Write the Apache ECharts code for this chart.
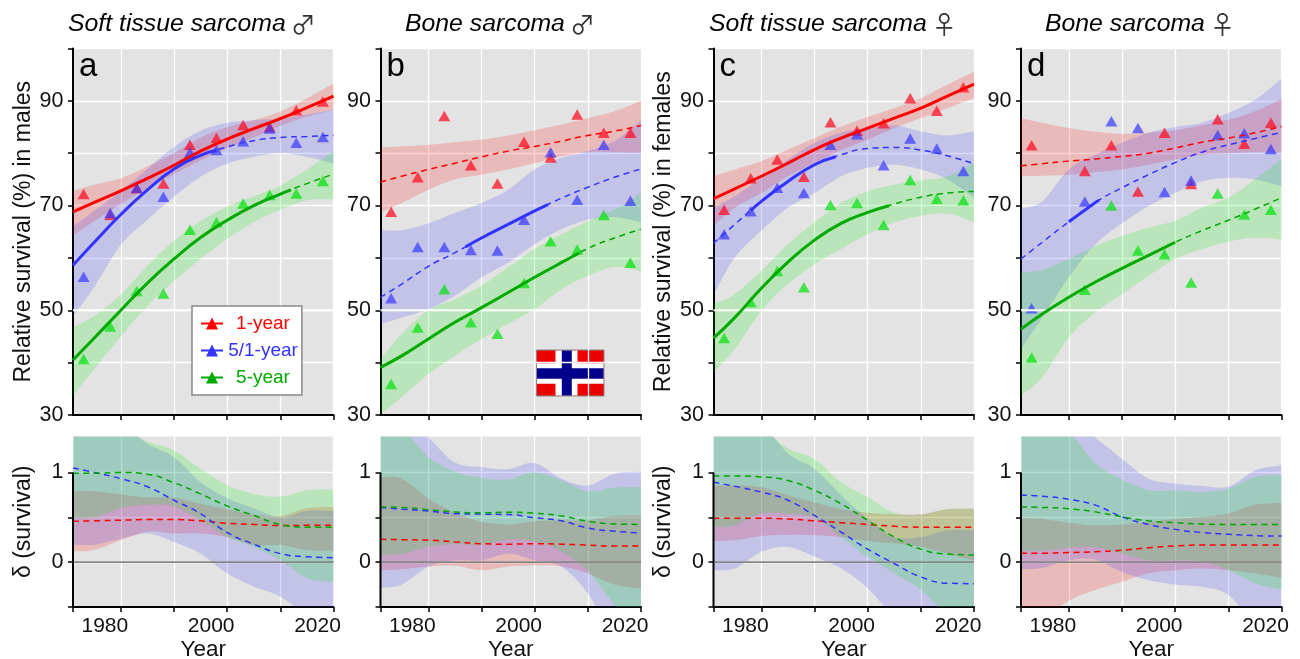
<!DOCTYPE html>
<html><head><meta charset="utf-8">
<style>html,body{margin:0;padding:0;background:#fff}#c{width:1300px;height:659px}</style>
<script src="https://cdn.jsdelivr.net/npm/echarts@6/dist/echarts.min.js"></script>
</head><body><div id="c"></div>
<script>
const years=[1971,1975,1980,1985,1990,1995,2000,2005,2010,2015,2020];
const pointYears=[1973,1978,1983,1988,1993,1998,2003,2008,2013,2018];
const xTickYears=[1980,1990,2000,2010,2020];
const xLabelYears=[1980,2000,2020];
const seriesNames=['1-year','5/1-year','5-year'];

// observed points
const aP1=[72.2,68.2,73.3,74.2,81.6,82.9,85.4,85.0,88.2,89.9];
const aP2=[56.4,68.6,73.4,71.7,80.2,80.6,82.3,84.7,82.0,83.1];
const aP3=[40.7,46.9,53.7,53.2,65.4,66.8,70.4,72.0,72.3,74.7];
const bP1=[68.8,75.4,87.1,77.7,74.2,82.2,79.2,87.4,83.9,83.9];
const bP2=[52.3,62.1,62.1,61.5,61.4,67.3,80.2,71.1,81.6,70.9];
const bP3=[35.9,46.7,54.0,47.7,45.5,55.2,63.2,61.6,68.2,59.1];
const cP1=[69.2,75.2,78.8,75.5,85.9,84.3,85.7,90.5,88.1,92.6];
const cP2=[64.5,68.9,73.4,72.4,81.6,83.6,77.7,82.8,80.9,76.6];
const cP3=[44.7,51.6,57.5,54.4,70.1,70.5,66.3,74.9,71.3,71.0];
const dP1=[81.5,null,76.6,81.5,72.7,83.9,74.1,86.5,81.8,85.8];
const dP2=[50.4,null,70.8,86.1,84.8,72.6,74.8,83.5,83.8,80.8];
const dP3=[41.0,null,53.9,70.0,61.4,60.7,55.3,72.3,68.3,69.2];

// fitted curves
const aF1=[68.8,70.6,72.8,75.2,77.7,80.4,82.7,84.7,86.6,88.7,90.9];
const aF2=[58.6,63.0,68.3,73.0,77.0,79.6,81.2,82.4,83.0,83.2,83.4];
const aF3=[40.5,44.7,50.0,55.2,59.8,63.9,67.2,70.0,72.2,74.2,76.0];
const bF1=[74.5,75.6,76.9,78.1,79.3,80.4,81.3,82.3,83.4,84.2,85.3];
const bF2=[52.5,55.0,58.4,61.0,63.8,66.4,69.0,71.4,73.5,75.4,77.0];
const bF3=[39.1,41.3,44.5,47.7,50.5,53.4,56.3,59.1,61.8,63.8,65.5];
const cF1=[71.3,73.2,75.6,78.1,80.7,82.9,84.8,86.7,88.6,90.9,93.2];
const cF2=[62.8,66.4,70.8,74.6,77.8,79.7,80.9,81.1,80.6,79.5,78.0];
const cF3=[44.7,48.6,54.2,59.2,63.4,66.6,68.7,70.3,71.6,72.4,72.7];
const dF1=[77.6,78.0,78.5,78.9,79.4,80.0,81.0,82.1,82.9,83.9,85.1];
const dF2=[59.8,63.0,66.9,70.6,73.4,75.9,78.2,80.2,81.6,82.8,84.0];
const dF3=[46.4,49.3,52.5,55.4,58.0,60.5,63.0,65.2,67.2,69.3,71.5];

// confidence bands
const aU1=[72.8,74.0,75.2,77.5,80.0,83.0,85.0,86.3,88.0,90.5,93.3];
const aL1=[64.3,67.0,70.3,73.3,76.0,78.6,81.0,83.0,85.2,87.0,88.3];
const aU2=[66.0,69.0,72.8,77.0,81.2,84.3,85.8,86.3,86.6,87.4,88.3];
const aL2=[48.8,54.5,62.5,67.3,71.7,75.5,78.0,79.3,80.0,79.3,78.0];
const aU3=[46.7,49.0,53.0,58.5,63.3,67.0,69.8,71.8,73.8,76.9,80.4];
const aL3=[33.7,38.8,45.0,50.8,55.6,59.8,63.6,66.8,69.2,71.0,71.2];
const bU1=[81.1,81.3,81.6,82.1,82.6,83.4,84.4,85.5,86.7,88.0,90.0];
const bL1=[68.7,70.5,73.0,75.0,75.9,76.9,78.1,79.4,80.2,80.2,80.1];
const bU2=[65.3,65.3,66.6,68.6,70.5,73.0,76.9,79.1,80.4,82.3,86.3];
const bL2=[47.4,48.6,50.2,52.8,56.3,59.1,62.6,65.5,67.3,67.8,66.8];
const bU3=[40.7,45.5,50.0,52.1,54.7,58.2,61.7,64.5,67.0,69.2,72.3];
const bL3=[30.2,33.4,37.8,41.3,44.5,47.4,50.2,54.0,56.6,58.3,57.4];
const cU1=[75.6,76.9,78.5,80.7,82.9,85.1,86.9,88.6,90.5,93.1,95.6];
const cL1=[66.1,69.6,72.4,75.6,78.1,80.6,82.6,84.8,86.7,88.6,90.5];
const cU2=[69.6,71.8,75.3,78.8,82.0,83.9,84.8,85.3,84.2,83.4,84.2];
const cL2=[53.0,60.1,65.2,69.6,72.4,75.6,77.2,77.8,76.9,75.0,71.5];
const cU3=[51.2,53.1,57.5,62.6,66.8,70.5,72.7,74.0,74.8,75.6,78.1];
const cL3=[38.1,42.6,49.9,55.0,58.8,61.7,64.5,66.8,68.0,68.5,66.8];
const dU1=[86.7,85.8,84.8,84.1,83.7,83.9,84.4,85.3,86.4,88.0,90.4];
const dL1=[75.6,75.7,75.9,76.4,76.9,77.8,78.8,79.7,80.0,80.2,80.1];
const dU2=[69.4,70.8,76.9,79.7,82.0,83.9,85.0,85.8,87.7,90.2,94.2];
const dL2=[42.6,48.6,56.3,62.6,66.6,69.9,72.4,74.6,75.3,75.0,73.7];
const dU3=[57.2,57.7,59.8,62.3,64.2,65.8,67.1,69.6,71.5,75.0,78.9];
const dL3=[33.7,37.2,44.8,49.6,53.1,56.6,59.8,61.7,63.1,63.9,63.5];

// delta curves
const aD1=[.455,.46,.467,.474,.474,.46,.433,.42,.407,.41,.41];
const aD2=[1.05,1.0,.93,.84,.69,.54,.33,.2,.095,.06,.05];
const aD3=[.99,.99,1.0,.98,.885,.76,.625,.52,.42,.39,.39];
const bD1=[.255,.25,.245,.225,.205,.2,.205,.2,.19,.18,.18];
const bD2=[.61,.59,.57,.54,.535,.53,.495,.46,.38,.345,.325];
const bD3=[.615,.61,.585,.56,.55,.555,.545,.515,.455,.425,.42];
const cD1=[.49,.49,.49,.48,.46,.44,.42,.4,.39,.39,.39];
const cD2=[.89,.845,.78,.69,.52,.335,.145,-.015,-.165,-.235,-.24];
const cD3=[.96,.96,.95,.91,.8,.65,.465,.28,.145,.09,.08];
const dD1=[.1,.1,.107,.115,.133,.16,.18,.19,.19,.19,.19];
const dD2=[.745,.735,.7,.635,.505,.42,.365,.33,.31,.295,.29];
const dD3=[.615,.61,.595,.56,.505,.46,.44,.425,.42,.42,.42];

// delta bands
const aDU1=[.79,.79,.755,.72,.72,.65,.59,.53,.515,.6,.615];
const aDL1=[.12,.135,.245,.34,.32,.32,.28,.19,.19,.135,.125];
const aDU2=[1.75,1.7,1.55,1.32,1.17,.89,.715,.6,.5,.57,.57];
const aDL2=[.195,.195,.26,.32,.225,.095,-.125,-.27,-.385,-.59,-.7];
const aDU3=[1.75,1.65,1.5,1.345,1.245,1.04,.86,.76,.73,.8,.81];
const aDL3=[.49,.5,.6,.64,.62,.467,.28,.17,.02,-.18,-.22];
const bDU1=[.95,.93,.71,.55,.45,.42,.455,.465,.465,.515,.52];
const bDL1=[-.09,-.08,-.05,-.04,-.09,-.05,-.035,-.045,-.125,-.25,-.295];
const bDU2=[1.9,1.7,1.395,1.11,1.06,1.035,1.105,.93,.855,.985,1.01];
const bDL2=[-.285,-.25,-.05,.02,.02,.095,.02,-.05,-.35,-.85,-1.0];
const bDU3=[1.6,1.5,1.17,1.01,.94,.92,1.0,.91,.79,.83,.835];
const bDL3=[.08,.09,.17,.2,.19,.25,.23,.12,-.1,-.48,-.8];
const cDU1=[.85,.855,.835,.745,.665,.59,.55,.535,.535,.59,.595];
const cDL1=[.235,.245,.29,.305,.3,.28,.235,.21,.17,.095,.02];
const cDU2=[1.8,1.7,1.55,1.21,1.04,.745,.485,.28,.28,.355,.355];
const cDL2=[-.09,-.07,.115,.17,.06,-.07,-.29,-.62,-.9,-1.0,-1.0];
const cDU3=[1.8,1.7,1.5,1.265,1.15,.89,.725,.55,.53,.59,.595];
const cDL3=[.39,.41,.54,.54,.49,.28,.06,-.125,-.31,-.59,-.8];
const dDU1=[.49,.48,.44,.41,.42,.45,.48,.505,.54,.64,.66];
const dDL1=[-.8,-.65,-.43,-.31,-.22,-.125,-.09,-.07,-.09,-.125,-.175];
const dDU2=[1.9,1.8,1.6,1.385,1.15,.93,.875,.85,.84,1.02,1.08];
const dDL2=[-.08,-.065,.02,.03,-.11,-.2,-.25,-.275,-.365,-.7,-.9];
const dDU3=[1.7,1.6,1.45,1.1,.92,.8,.8,.78,.82,.95,.975];
const dDL3=[.13,.13,.16,.165,.095,.02,.02,.01,-.09,-.235,-.31];

const FONT='"Liberation Sans", Arial, sans-serif';
const INK='#111';
const LINE=['#ff0000','#3333ff','#00aa00'];
const POINT=['rgba(255,10,30,.9)','rgba(51,51,255,.85)','rgba(0,225,10,.88)'];
const BAND=['rgba(255,0,0,.18)','rgba(51,51,255,.18)','rgba(0,238,0,.18)'];

const panels=[
 {id:'a',left:73,title:'Soft tissue sarcoma',sym:'♂',tx:68,yName:'Relative survival (%) in males',P:[aP1,aP2,aP3],F:[aF1,aF2,aF3],
  U:[aU1,aU2,aU3],L:[aL1,aL2,aL3],D:[aD1,aD2,aD3],DU:[aDU1,aDU2,aDU3],DL:[aDL1,aDL2,aDL3],solid:[[1971,2020],[1971,1998],[1971,2012]]},
 {id:'b',left:380.5,title:'Bone sarcoma',sym:'♂',tx:405,yName:'',P:[bP1,bP2,bP3],F:[bF1,bF2,bF3],
  U:[bU1,bU2,bU3],L:[bL1,bL2,bL3],D:[bD1,bD2,bD3],DU:[bDU1,bDU2,bDU3],DL:[bDL1,bDL2,bDL3],solid:[null,[1987,2002.5],[1971,2008.4]]},
 {id:'c',left:713.5,title:'Soft tissue sarcoma',sym:'♀',tx:709,yName:'Relative survival (%) in females',P:[cP1,cP2,cP3],F:[cF1,cF2,cF3],
  U:[cU1,cU2,cU3],L:[cL1,cL2,cL3],D:[cD1,cD2,cD3],DU:[cDU1,cDU2,cDU3],DL:[cDL1,cDL2,cDL3],solid:[[1971,2020],[1978,1994],[1971,2004]]},
 {id:'d',left:1021,title:'Bone sarcoma',sym:'♀',tx:1045,yName:'',P:[dP1,dP2,dP3],F:[dF1,dF2,dF3],
  U:[dU1,dU2,dU3],L:[dL1,dL2,dL3],D:[dD1,dD2,dD3],DU:[dDU1,dDU2,dDU3],DL:[dDL1,dDL2,dDL3],solid:[null,[1980,1985.7],[1971,2000]]}
];
const W=260.5, TOP1=48.5,H1=366.5, TOP2=436.5,H2=170.5;

const grids=[],xAxes=[],yAxes=[],series=[],titles=[];
// Catmull-Rom path through pixel knots, so bands have smooth edges and square ends
function spline(pts){
  const out=[];
  for(let i=0;i<pts.length-1;i++){
    const p0=pts[Math.max(i-1,0)],p1=pts[i],p2=pts[i+1],p3=pts[Math.min(i+2,pts.length-1)];
    for(let s=0;s<8;s++){
      const t=s/8,t2=t*t,t3=t2*t;
      out.push([0,1].map(d=>.5*(2*p1[d]+(p2[d]-p0[d])*t+(2*p0[d]-5*p1[d]+4*p2[d]-p3[d])*t2+(3*p1[d]-p0[d]-3*p2[d]+p3[d])*t3)));
    }
  }
  out.push(pts[pts.length-1]);
  return out;
}
function band(name,gi,lo,hi,color){
  const rows=years.map((y,i)=>[y,lo[i],hi[i]]);
  series.push({type:'custom',name,xAxisIndex:gi,yAxisIndex:gi,clip:true,silent:true,
    encode:{x:0,y:[1,2]},data:rows,
    renderItem(params,api){
      if(params.dataIndex!==0) return null;
      const up=spline(rows.map(r=>api.coord([r[0],r[2]])));
      const dn=spline(rows.map(r=>api.coord([r[0],r[1]]))).reverse();
      return {type:'polygon',shape:{points:up.concat(dn)},style:{fill:color,stroke:null}};
    }});
}
function curve(name,gi,vals,color,width,dash,extra){
  series.push(Object.assign({type:'line',name,xAxisIndex:gi,yAxisIndex:gi,data:vals,smooth:0.5,
    symbol:'none',showSymbol:false,silent:true,clip:true,
    lineStyle:{color,width,type:dash?[6,4.5]:'solid'},itemStyle:{color}},extra||{}));
}
function sectionAt(vals,t){
  for(let i=0;i<years.length-1;i++){
    if(t>=years[i]&&t<=years[i+1]){
      const f=(t-years[i])/(years[i+1]-years[i]);
      return vals[i]+(vals[i+1]-vals[i])*f;
    }
  }
  return vals[vals.length-1];
}
panels.forEach((p,k)=>{
  const g1=k*2,g2=k*2+1;
  grids.push({left:p.left,top:TOP1,width:W,height:H1,show:true,backgroundColor:'#e3e3e3',borderWidth:0,outerBoundsMode:'none'});
  grids.push({left:p.left,top:TOP2,width:W,height:H2,show:true,backgroundColor:'#e3e3e3',borderWidth:0,outerBoundsMode:'none'});
  const xBase={type:'value',min:1971,max:2020,
    axisLine:{show:true,onZero:false,lineStyle:{color:'#000',width:2}},
    splitLine:{show:true,lineStyle:{color:'#fff',width:1.3}}};
  xAxes.push(Object.assign({},xBase,{gridIndex:g1,interval:10,
    axisTick:{show:true,length:5,customValues:xTickYears,lineStyle:{color:'#000',width:1.5}},
    axisLabel:{show:false}}));
  xAxes.push(Object.assign({},xBase,{gridIndex:g2,interval:10,
    name:'Year',nameLocation:'middle',nameGap:31,nameMoveOverlap:false,
    nameTextStyle:{fontFamily:FONT,fontSize:22.5,color:INK},
    axisTick:{show:true,length:5,customValues:[1971].concat(xTickYears),lineStyle:{color:'#000',width:1.5}},
    axisLabel:{show:true,customValues:xLabelYears,formatter:v=>String(v),margin:9,padding:[0,32,0,0],fontFamily:FONT,fontSize:21,color:INK,hideOverlap:false}}));
  yAxes.push({type:'value',gridIndex:g1,min:30,max:100,interval:10,
    name:p.yName,nameLocation:'middle',nameGap:38,nameRotate:90,nameMoveOverlap:false,
    nameTextStyle:{fontFamily:FONT,fontSize:23,color:INK},
    axisLine:{show:true,onZero:false,lineStyle:{color:'#000',width:2}},
    axisTick:{show:true,length:5,lineStyle:{color:'#000',width:1.5}},
    axisLabel:{show:true,customValues:[30,50,70,90],formatter:v=>String(v),margin:9.5,padding:[2,0,0,0],fontFamily:FONT,fontSize:21.5,color:INK},
    splitLine:{show:true,lineStyle:{color:'#fff',width:1.3}}});
  yAxes.push({type:'value',gridIndex:g2,min:-0.5,max:1.4,interval:0.5,
    name:p.yName?'δ (survival)':'',nameLocation:'middle',nameGap:38,nameRotate:90,nameMoveOverlap:false,
    nameTextStyle:{fontFamily:FONT,fontSize:23,color:INK},
    axisLine:{show:false,onZero:false},
    axisTick:{show:true,length:5,customValues:[-0.5,0,0.5,1],lineStyle:{color:'#000',width:1.5}},
    axisLabel:{show:true,customValues:[0,1],formatter:v=>String(v),margin:9.5,padding:[2,0,0,0],fontFamily:FONT,fontSize:21.5,color:INK},
    splitLine:{show:true,lineStyle:{color:'#fff',width:1.3}}});

  series.push({type:'line',name:p.id+' grid50',xAxisIndex:g1,yAxisIndex:g1,data:[[1971,50],[2020,50]],symbol:'none',silent:true,lineStyle:{color:'#fff',width:2}});

  [0,1,2].forEach(i=>band(p.id+' band '+i,g1,p.L[i],p.U[i],BAND[i]));
  [0,1,2].forEach(i=>{
    series.push({type:'scatter',name:p.id+' points '+i,xAxisIndex:g1,yAxisIndex:g1,silent:true,
      symbol:'triangle',symbolSize:[12,10.5],itemStyle:{color:POINT[i]},
      data:pointYears.map((y,j)=>p.P[i][j]==null?null:[y,p.P[i][j]]).filter(Boolean)});
  });
  [0,1,2].forEach(i=>{
    const full=years.map((y,j)=>[y,p.F[i][j]]);
    const s=p.solid[i];
    if(!s||s[0]>1971||s[1]<2020) curve(p.id+' ext '+i,g1,full,LINE[i],1.5,true);
    if(s){
      const seg=[[s[0],sectionAt(p.F[i],s[0])]]
        .concat(full.filter(r=>r[0]>s[0]&&r[0]<s[1]))
        .concat([[s[1],sectionAt(p.F[i],s[1])]]);
      const nm=(k===0)?seriesNames[i]:p.id+' fit '+i;
      curve(nm,g1,seg,LINE[i],3,false,{symbol:'triangle',symbolSize:10});
    }
  });

  [0,1,2].forEach(i=>band(p.id+' delta band '+i,g2,p.DL[i],p.DU[i],BAND[i]));
  [0,1,2].forEach(i=>curve(p.id+' delta '+i,g2,years.map((y,j)=>[y,p.D[i][j]]),LINE[i],1.5,true));
  series.push({type:'line',name:p.id+' zero',xAxisIndex:g2,yAxisIndex:g2,data:[[1971,0],[2020,0]],symbol:'none',silent:true,lineStyle:{color:'#888',width:1.6}});
  series.push({type:'line',name:p.id+' y axis',xAxisIndex:g2,yAxisIndex:g2,data:[[1971,-0.5],[1971,1]],symbol:'none',silent:true,clip:false,lineStyle:{color:'#000',width:2}});

  titles.push({text:'{t|'+p.title+'} {s|'+p.sym+'}',left:p.tx,top:12,padding:0,
    textStyle:{fontWeight:'normal',rich:{t:{fontFamily:FONT,fontStyle:'italic',fontWeight:'normal',fontSize:24.8,color:'#000'},
                     s:{fontFamily:'"Noto Sans CJK JP"',fontWeight:'normal',fontSize:25,color:'#333'}}}});
  titles.push({text:p.id,left:p.left+6,top:50,padding:0,textStyle:{fontFamily:FONT,fontSize:33,fontWeight:'normal',color:'#000'}});
});

const legendColors=['#ff0000','#3333ff','#00aa00'];
const flagX=536,flagY=349.5,flagW=67.5,flagH=46;
const option={
  animation:false,
  backgroundColor:'#fff',
  title:titles,
  grid:grids,xAxis:xAxes,yAxis:yAxes,series,
  legend:{show:true,orient:'vertical',left:192,top:306,z:20,selectedMode:false,
    backgroundColor:'#fff',borderColor:'#888',borderWidth:1.5,borderRadius:0,
    padding:[8,4,8,8],itemWidth:22,itemHeight:15,itemGap:8,
    data:seriesNames.map((n,i)=>({name:n})),
    formatter:n=>'{c'+seriesNames.indexOf(n)+'|'+n+'}',
    textStyle:{rich:{
      c0:{fontFamily:FONT,fontSize:19,color:legendColors[0],width:70,align:'center'},
      c1:{fontFamily:FONT,fontSize:19,color:legendColors[1],width:70,align:'center'},
      c2:{fontFamily:FONT,fontSize:19,color:legendColors[2],width:70,align:'center'}}}},
  graphic:[{type:'group',left:flagX,top:flagY,z:30,children:[
    {type:'rect',shape:{x:0,y:0,width:flagW,height:flagH},style:{fill:'#ef0000',stroke:'#888',lineWidth:1}},
    {type:'rect',shape:{x:19,y:.5,width:22,height:flagH-1},style:{fill:'#fff'}},
    {type:'rect',shape:{x:.5,y:13.2,width:flagW-1,height:20.6},style:{fill:'#fff'}},
    {type:'rect',shape:{x:25.3,y:.5,width:10,height:flagH-1},style:{fill:'#00008b'}},
    {type:'rect',shape:{x:.5,y:18.2,width:flagW-1,height:10.6},style:{fill:'#00008b'}}
  ]}]
};
echarts.init(document.getElementById('c'),null,{renderer:'canvas'}).setOption(option);
</script></body></html>
